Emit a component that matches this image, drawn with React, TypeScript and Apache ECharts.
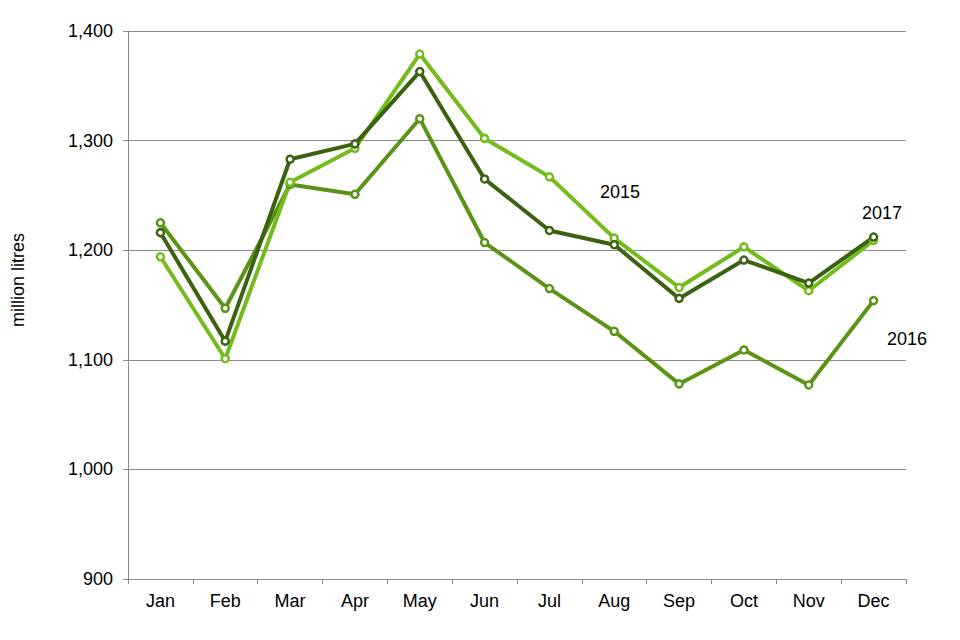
import React, { useEffect, useRef } from "react";
import * as echarts from "echarts";

const months = ["Jan", "Feb", "Mar", "Apr", "May", "Jun", "Jul", "Aug", "Sep", "Oct", "Nov", "Dec"];
const y2015 = [1194, 1101, 1262, 1293, 1379, 1302, 1267, 1211, 1166, 1203, 1163, 1209];
const y2016 = [1225, 1147, 1260, 1251, 1320, 1207, 1165, 1126, 1078, 1109, 1077, 1154];
const y2017 = [1216, 1117, 1283, 1297, 1363, 1265, 1218, 1205, 1156, 1191, 1170, 1212];
const seriesNames = ["2016", "2015", "2017"];
const colors = { "2015": "#74bb1c", "2016": "#5a9417", "2017": "#3a6210" };

export default function App() {
  const ref = useRef<HTMLDivElement>(null);
  useEffect(() => {
    if (!ref.current) return;
    const chart = echarts.init(ref.current, null, { renderer: "svg" });
    const dataMap: Record<string, number[]> = { "2015": y2015, "2016": y2016, "2017": y2017 };
    const font = "Liberation Sans, Arial, sans-serif";
    chart.setOption({
      animation: false,
      grid: { left: 128, right: 54, top: 31, bottom: 61 },
      xAxis: {
        type: "category",
        data: months,
        boundaryGap: true,
        axisLine: { lineStyle: { color: "#8c8c8c", width: 1 } },
        axisTick: { show: true, length: 5, lineStyle: { color: "#8c8c8c" } },
        axisLabel: { color: "#000", fontSize: 18, fontFamily: font, margin: 13 },
      },
      yAxis: {
        type: "value",
        min: 900,
        max: 1400,
        interval: 100,
        axisLine: { show: true, lineStyle: { color: "#8c8c8c", width: 1 } },
        axisTick: { show: true, length: 5, lineStyle: { color: "#8c8c8c" } },
        axisLabel: {
          color: "#000",
          fontSize: 18,
          fontFamily: font,
          margin: 15,
          formatter: (v: number) => v.toLocaleString("en-US"),
        },
        splitLine: { show: true, lineStyle: { color: "#8c8c8c", width: 1 } },
      },
      series: seriesNames.map((n) => ({
        name: n,
        type: "line",
        data: dataMap[n],
        symbol: "circle",
        symbolSize: 7,
        showAllSymbol: true,
        lineStyle: { color: (colors as any)[n], width: 4 },
        itemStyle: { color: "#fff", borderColor: (colors as any)[n], borderWidth: 2.5 },
        z: 2,
      })),
      graphic: [
        {
          type: "text",
          x: 18,
          y: 280,
          rotation: Math.PI / 2,
          style: { text: "million litres", fill: "#000", fontSize: 18, fontFamily: font, align: "center", verticalAlign: "middle" },
        },
        { type: "text", x: 600, y: 192, style: { text: "2015", fill: "#000", fontSize: 18, fontFamily: font, verticalAlign: "middle" } },
        { type: "text", x: 862, y: 213, style: { text: "2017", fill: "#000", fontSize: 18, fontFamily: font, verticalAlign: "middle" } },
        { type: "text", x: 887, y: 339, style: { text: "2016", fill: "#000", fontSize: 18, fontFamily: font, verticalAlign: "middle" } },
      ],
    });
    return () => chart.dispose();
  }, []);
  return <div ref={ref} style={{ width: 960, height: 640, position: "absolute", left: 0, top: 0, background: "#fff" }} />;
}
